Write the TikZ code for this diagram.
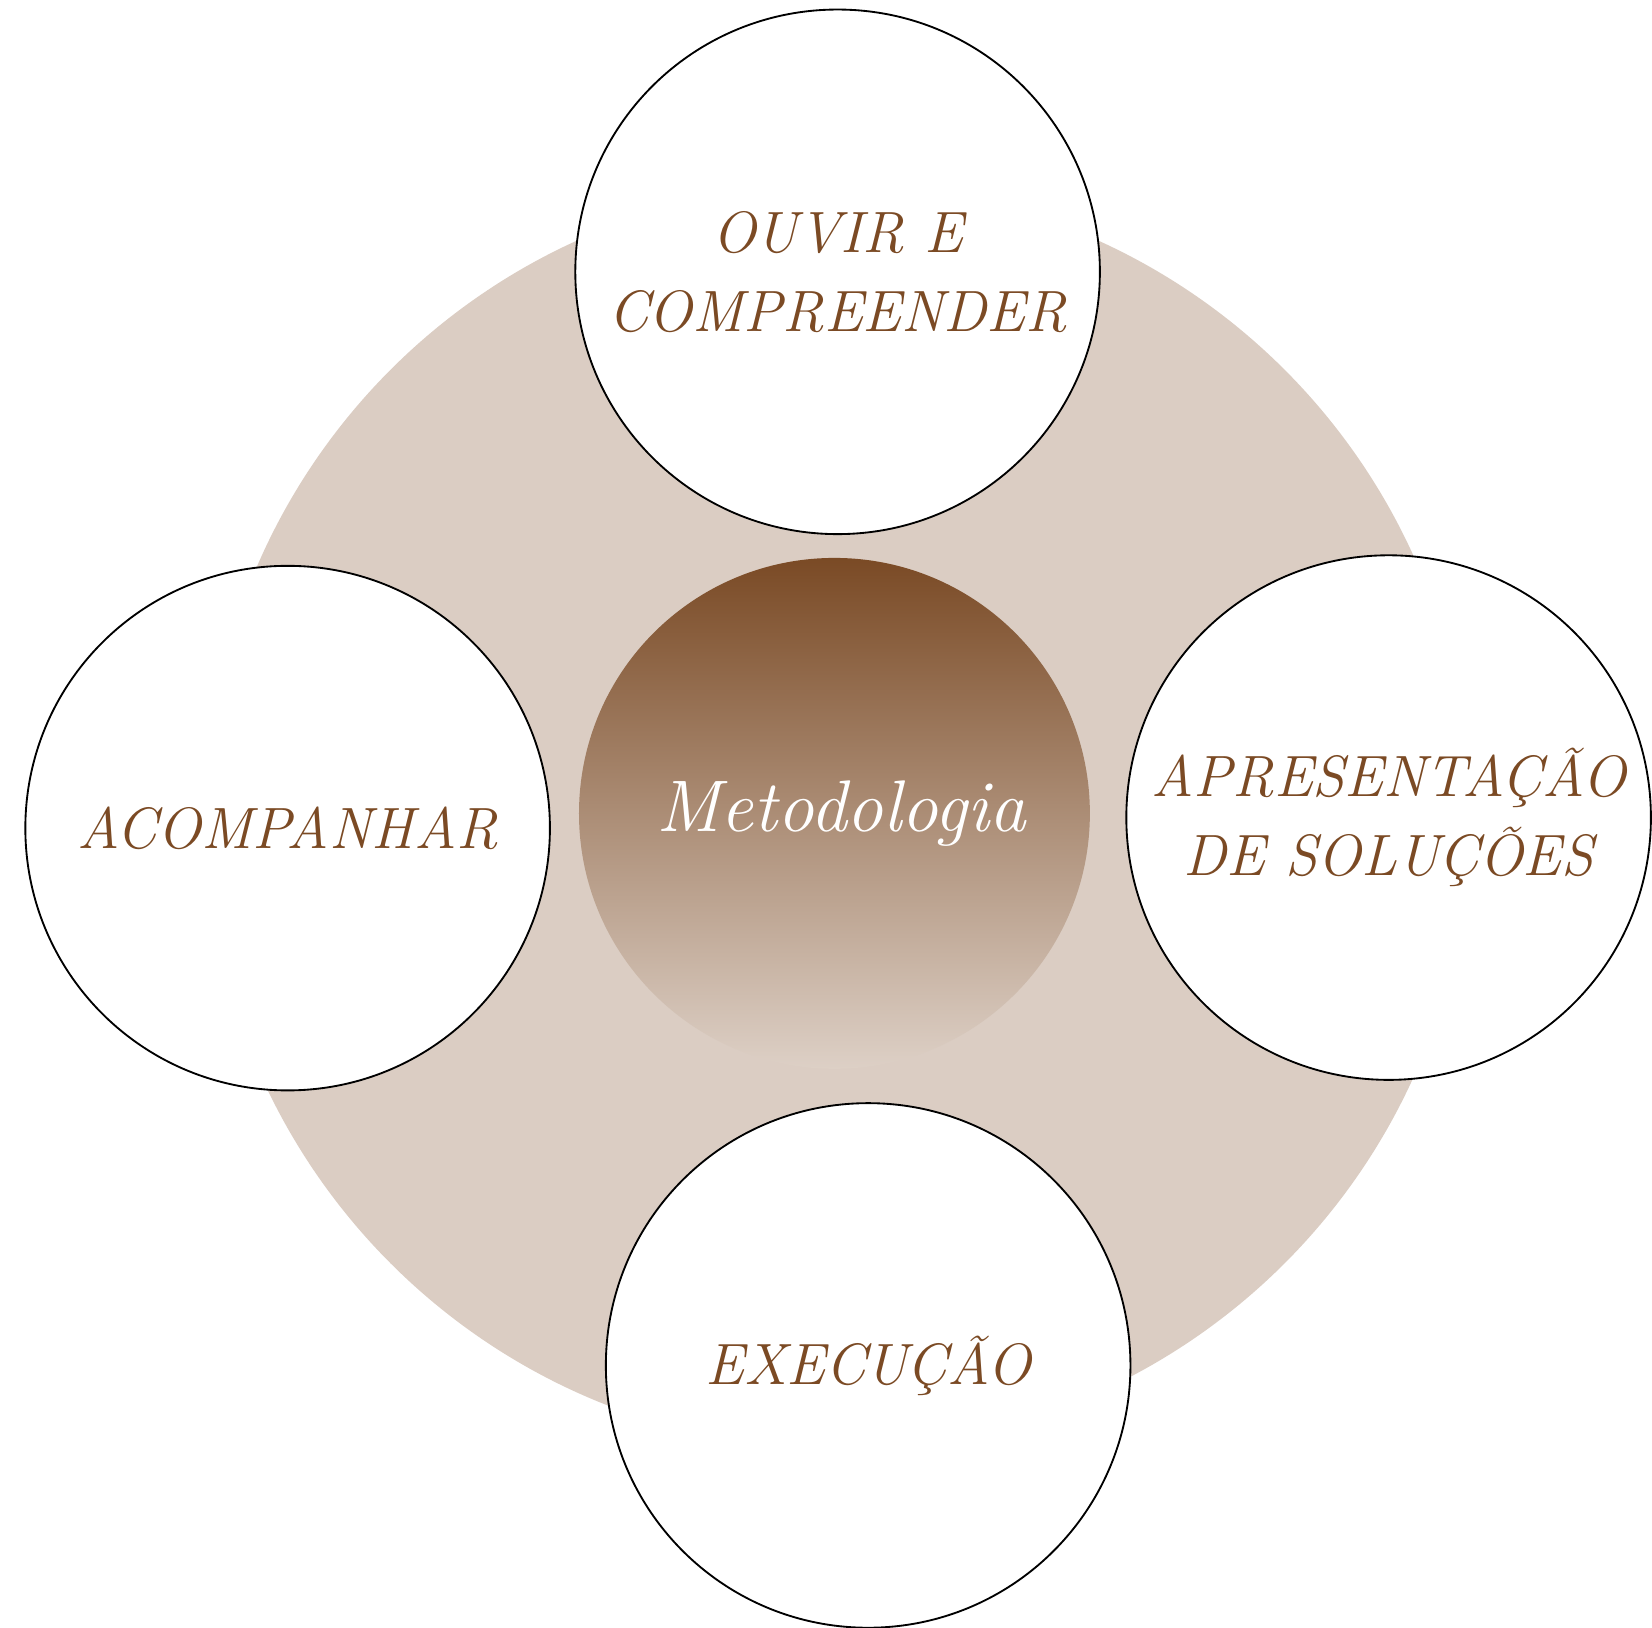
\documentclass[tikz,border=0pt]{standalone}
\usepackage{tikz}
\usetikzlibrary{positioning}
\definecolor{brownText}{RGB}{123,74,36}
\definecolor{sandBg}{RGB}{219,205,195}
\definecolor{shadeTop}{RGB}{122,74,37}
\definecolor{shadeBottom}{RGB}{221,208,198}

\begin{document}
\begin{tikzpicture}[
    x=0.02cm, y=-0.02cm,
    back_disc/.style={circle, fill=sandBg, minimum size=24cm, inner sep=0pt},
    step_circle/.style={circle, draw=black, line width=1pt, fill=white,
                        minimum size=9.96cm, inner sep=0pt, align=center,
                        text=brownText,
                        font=\fontsize{31.5}{42.5}\selectfont\itshape},
    core_circle/.style={circle, minimum size=9.7cm, inner sep=0pt,
                        top color=shadeTop, bottom color=shadeBottom,
                        text=white, font=\fontsize{39.5}{48}\selectfont\itshape}
  ]
    \useasboundingbox (0,0) rectangle (1568,1545);

    % background disc and core
    \node[back_disc] (bg) at (795,775) {};
    \node[core_circle] (core) at (792,772) {\hspace{18\pgflinewidth}Metodologia};

    % the four steps
    \node[step_circle] (listen) at (795,258) {OUVIR E\\COMPREENDER};
    \node[step_circle] (present) at (1318,776) {APRESENTAÇÃO\\DE SOLUÇÕES};
    \node[step_circle] (execute) at (824,1296) {EXECUÇÃO};
    \node[step_circle] (follow) at (273,786) {ACOMPANHAR};

\end{tikzpicture}
\end{document}
